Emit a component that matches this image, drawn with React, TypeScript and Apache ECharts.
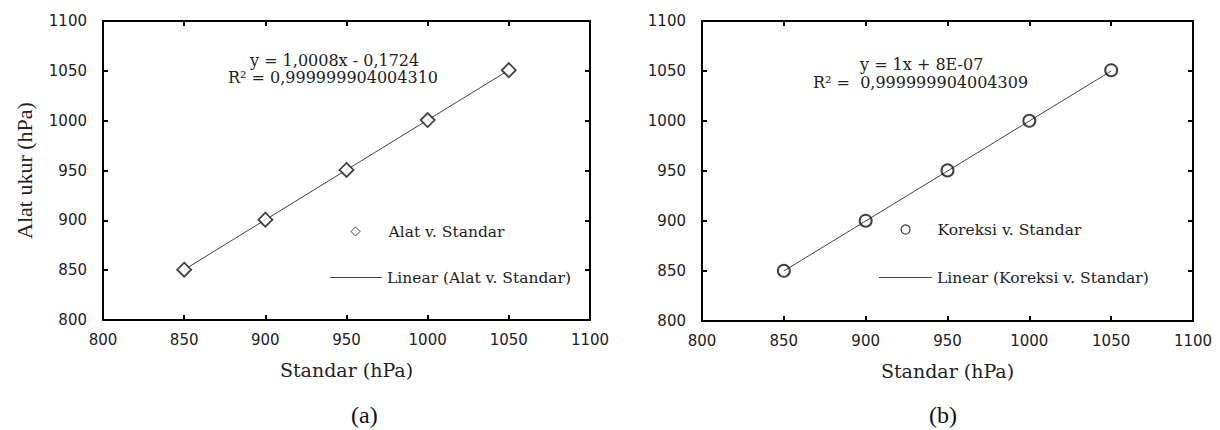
import React, { useEffect, useRef } from "react";
import * as echarts from "echarts";

// Data
const standar = [850, 900, 950, 1000, 1050];
const alat = [850.5, 900.6, 950.6, 1000.6, 1050.7];
const koreksi = [850.2, 900.3, 950.6, 1000.2, 1050.8];
const trendX = [850, 1050];
const trendAlat = [850.5, 1050.7];
const trendKoreksi = [850, 1050];
const axisMin = 800;
const axisMax = 1100;
const axisStep = 50;
const eqA = ["y = 1,0008x - 0,1724", "R\u00B2 = 0,999999904004310"];
const eqB = ["y = 1x + 8E-07", "R\u00B2 =  0,999999904004309"];
const captions = ["(a)", "(b)"];

const SERIF = "DejaVu Serif";
const SANS = "DejaVu Sans";

function pairs(xs: number[], ys: number[]) {
  return xs.map((x, i) => [x, ys[i]]);
}

const plain = (v: number) => String(v);

function makeX(grid: number, primary: boolean) {
  return {
    gridIndex: grid,
    type: "value",
    min: axisMin,
    max: axisMax,
    interval: axisStep,
    position: primary ? "bottom" : "top",
    axisLine: { show: true, onZero: false, lineStyle: { color: "#000", width: 2 } },
    axisTick: { show: true, inside: true, length: 5, lineStyle: { color: "#000", width: 2 } },
    axisLabel: primary
      ? { show: true, fontFamily: SANS, fontSize: 15, color: "#222", margin: 12, formatter: plain }
      : { show: false },
    splitLine: { show: false },
    name: primary ? "Standar (hPa)" : "",
    nameLocation: "middle",
    nameGap: 40,
    nameTextStyle: { fontFamily: SERIF, fontSize: 19, color: "#222" },
  };
}

function makeY(grid: number, primary: boolean, withName: boolean) {
  return {
    gridIndex: grid,
    type: "value",
    min: axisMin,
    max: axisMax,
    interval: axisStep,
    position: primary ? "left" : "right",
    axisLine: { show: true, onZero: false, lineStyle: { color: "#000", width: 2 } },
    axisTick: { show: true, inside: true, length: 5, lineStyle: { color: "#000", width: 2 } },
    axisLabel: primary
      ? { show: true, fontFamily: SANS, fontSize: 15, color: "#222", margin: 16, formatter: plain }
      : { show: false },
    splitLine: { show: false },
    name: primary && withName ? "Alat ukur (hPa)" : "",
    nameLocation: "middle",
    nameGap: 68,
    nameTextStyle: { fontFamily: "Liberation Serif", fontSize: 22, color: "#222" },
  };
}

function eqText(x: number, y: number, text: string) {
  return {
    type: "text",
    left: x,
    top: y,
    style: { text, fontFamily: SERIF, fontSize: 16, fill: "#222" },
  };
}

export default function App() {
  const ref = useRef<HTMLDivElement>(null);
  useEffect(() => {
    if (!ref.current) return;
    const chart = echarts.init(ref.current, null, { renderer: "svg" });
    const legendText = { fontFamily: SERIF, fontSize: 15.5, color: "#222" };
    chart.setOption({
      animation: false,
      backgroundColor: "#fff",
      grid: [
        { left: 103, top: 21, width: 487, height: 299 },
        { left: 702, top: 21, width: 491, height: 300 },
      ],
      xAxis: [makeX(0, true), makeX(0, false), makeX(1, true), makeX(1, false)],
      yAxis: [makeY(0, true, true), makeY(0, false, false), makeY(1, true, false), makeY(1, false, false)],
      legend: [
        {
          data: ["Alat v. Standar"],
          left: 350.5, top: 223.5, padding: 0,
          itemWidth: 9, itemHeight: 9,
          itemStyle: { borderWidth: 1 },
          textStyle: { ...legendText, padding: [0, 0, 0, 23.5] },
        },
        {
          data: [{ name: "Linear (Alat v. Standar)", icon: "rect" }],
          left: 330, top: 269.5, padding: 0,
          itemWidth: 52, itemHeight: 1,
          textStyle: legendText,
        },
        {
          data: ["Koreksi v. Standar"],
          left: 900.5, top: 221.5, padding: 0,
          itemWidth: 9, itemHeight: 9,
          itemStyle: { borderWidth: 1.2 },
          textStyle: { ...legendText, padding: [0, 0, 0, 22.5] },
        },
        {
          data: [{ name: "Linear (Koreksi v. Standar)", icon: "rect" }],
          left: 879, top: 269.5, padding: 0,
          itemWidth: 53, itemHeight: 1,
          textStyle: legendText,
        },
      ],
      series: [
        {
          name: "Linear (Alat v. Standar)",
          type: "line",
          xAxisIndex: 0, yAxisIndex: 0,
          data: pairs(trendX, trendAlat),
          symbol: "none",
          itemStyle: { color: "#444" },
          lineStyle: { color: "#444", width: 1 },
          z: 2,
        },
        {
          name: "Alat v. Standar",
          type: "scatter",
          xAxisIndex: 0, yAxisIndex: 0,
          data: pairs(standar, alat),
          symbol: "diamond",
          symbolSize: 14,
          itemStyle: { color: "#fff", borderColor: "#111", borderWidth: 1.8 },
          z: 3,
        },
        {
          name: "Linear (Koreksi v. Standar)",
          type: "line",
          xAxisIndex: 2, yAxisIndex: 2,
          data: pairs(trendX, trendKoreksi),
          symbol: "none",
          itemStyle: { color: "#444" },
          lineStyle: { color: "#444", width: 1 },
          z: 2,
        },
        {
          name: "Koreksi v. Standar",
          type: "scatter",
          xAxisIndex: 2, yAxisIndex: 2,
          data: pairs(standar, koreksi),
          symbol: "circle",
          symbolSize: 12,
          itemStyle: { color: "rgba(255,255,255,0)", borderColor: "#111", borderWidth: 2 },
          z: 3,
        },
      ],
      graphic: [
        eqText(250, 52, eqA[0]),
        eqText(228, 69, eqA[1]),
        eqText(860, 56, eqB[0]),
        eqText(813, 74, eqB[1]),
        {
          type: "text", left: 351, top: 403,
          style: { text: captions[0], fontFamily: "Liberation Serif", fontSize: 24, fill: "#111" },
        },
        {
          type: "text", left: 929, top: 403,
          style: { text: captions[1], fontFamily: "Liberation Serif", fontSize: 24, fill: "#111" },
        },
      ],
    });
    return () => chart.dispose();
  }, []);
  return (
    <div
      ref={ref}
      style={{ position: "absolute", left: 0, top: 0, width: 1220, height: 430, background: "#fff" }}
    />
  );
}
